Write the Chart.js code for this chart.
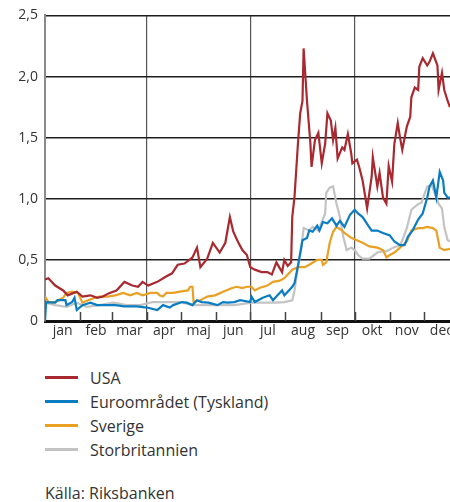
<!DOCTYPE html>
<html>
<head>
<meta charset="utf-8">
<script src="https://cdn.jsdelivr.net/npm/chart.js@4.4.1/dist/chart.umd.min.js"></script>
<style>
html,body{margin:0;padding:0;overflow:hidden;background:#fff;width:450px;height:502px;}
#wrap{position:relative;width:470px;height:502px;font-family:"Open Sans",Lato,sans-serif;color:#333;}
#chartBox{position:absolute;left:0;top:0;width:470px;height:345px;}
.leg{position:absolute;left:0;height:24px;width:400px;}
.leg .ln{position:absolute;left:45px;top:10px;width:33px;height:3px;}
.leg .tx{position:absolute;left:90px;top:0;line-height:24px;font-size:16px;white-space:nowrap;}
#src{position:absolute;left:45px;top:481px;line-height:24px;font-size:16px;white-space:nowrap;}
</style>
</head>
<body>
<div id="wrap">
  <div id="chartBox"><canvas id="c"></canvas></div>
  <div id="legend"></div>
  <div id="src">Källa: Riksbanken</div>
</div>
<script>
// ---- data (x = day of year 2007, y = percentage points) ----
const monthNames = ['jan','feb','mar','apr','maj','jun','jul','aug','sep','okt','nov','dec'];
const monthStarts = [0,31,59,90,120,151,181,212,243,273,304,334,365];
const quarterLines = [90,181,273];
const yTicks = [0,0.5,1,1.5,2,2.5];

const seriesNames = ['USA','Euroområdet (Tyskland)','Sverige','Storbritannien'];
const seriesColors = ['#a8292f','#0a7cc2','#e9a023','#c3c3c3'];

const usaDays = [0,3,9,16,20,28,33,40,46,51,57,63,70,77,82,86,91,99,106,112,117,123,130,134,137,143,148,154,159,163,166,170,174,178,181,185,191,196,200,204,209,211,214,217,218,220,223,225,227,228,231,234,235,238,241,244,247,249,252,254,256,258,262,264,267,270,271,275,277,280,284,288,289,293,295,298,301,303,306,308,311,313,315,319,322,323,326,329,330,333,337,339,342,346,347,350,352,355,357];
const usaVals = [0.34,0.35,0.29,0.25,0.21,0.24,0.20,0.21,0.19,0.20,0.23,0.25,0.32,0.29,0.28,0.32,0.29,0.32,0.36,0.39,0.46,0.47,0.52,0.60,0.44,0.51,0.64,0.56,0.64,0.85,0.73,0.65,0.58,0.54,0.44,0.42,0.40,0.40,0.38,0.48,0.40,0.50,0.45,0.48,0.85,1.02,1.45,1.70,1.80,2.23,1.80,1.45,1.26,1.48,1.54,1.29,1.45,1.70,1.64,1.48,1.58,1.33,1.42,1.40,1.53,1.37,1.29,1.32,1.26,1.15,0.92,1.18,1.34,1.10,1.21,1.01,0.96,1.27,1.14,1.45,1.62,1.50,1.40,1.59,1.67,1.83,1.91,1.89,2.08,2.15,2.09,2.12,2.19,2.09,1.89,2.03,1.89,1.80,1.75];

const euroDays = [0,1,9,11,18,19,24,26,28,33,40,46,55,62,70,81,90,99,104,110,113,121,125,130,134,138,144,152,157,161,167,172,181,182,185,192,198,201,205,209,211,214,218,220,223,227,231,233,236,240,242,245,249,253,257,260,264,269,273,276,280,285,288,293,298,304,308,313,317,320,324,329,333,337,339,342,345,348,351,352,355,357];
const euroVals = [0,0.155,0.15,0.17,0.17,0.13,0.155,0.19,0.09,0.13,0.15,0.13,0.13,0.13,0.12,0.12,0.11,0.09,0.13,0.11,0.13,0.155,0.15,0.13,0.17,0.155,0.15,0.13,0.155,0.15,0.155,0.17,0.155,0.20,0.155,0.19,0.21,0.17,0.21,0.25,0.21,0.24,0.28,0.31,0.45,0.66,0.68,0.74,0.73,0.78,0.74,0.81,0.80,0.84,0.78,0.82,0.77,0.87,0.91,0.88,0.85,0.78,0.74,0.74,0.72,0.70,0.65,0.62,0.62,0.69,0.74,0.83,0.88,1.01,1.10,1.15,1.01,1.22,1.15,1.05,1.01,1.01];

const sweDays = [0,3,9,16,19,24,29,33,38,44,48,55,62,69,75,81,86,93,99,101,104,107,113,119,126,128,130,131,137,143,150,157,165,169,174,178,182,185,189,196,201,207,211,213,218,223,229,233,240,244,245,248,251,254,257,262,264,267,270,275,280,286,293,298,301,304,308,313,319,323,329,333,337,342,345,348,352,357];
const sweVals = [0.20,0.155,0.155,0.19,0.23,0.24,0.23,0.15,0.17,0.19,0.20,0.20,0.21,0.23,0.21,0.23,0.21,0.23,0.23,0.21,0.20,0.23,0.23,0.24,0.25,0.28,0.28,0.155,0.17,0.20,0.21,0.24,0.27,0.28,0.27,0.28,0.28,0.25,0.27,0.29,0.32,0.33,0.35,0.37,0.42,0.44,0.44,0.46,0.50,0.50,0.46,0.48,0.64,0.73,0.77,0.74,0.72,0.70,0.68,0.66,0.64,0.61,0.60,0.58,0.52,0.54,0.56,0.60,0.65,0.74,0.76,0.76,0.77,0.76,0.74,0.60,0.58,0.59];

const ukDays = [0,9,19,28,37,48,60,72,84,95,107,119,130,143,154,167,182,194,203,211,218,220,223,226,228,233,236,241,244,247,248,251,254,257,260,263,266,270,273,276,280,286,293,297,301,307,313,315,319,323,328,332,335,337,341,345,347,350,352,355,357];
const ukVals = [0.15,0.13,0.115,0.15,0.115,0.13,0.15,0.13,0.13,0.155,0.155,0.155,0.13,0.13,0.13,0.13,0.15,0.15,0.15,0.155,0.17,0.25,0.44,0.60,0.76,0.74,0.77,0.74,0.81,0.88,1.05,1.09,1.10,0.96,0.85,0.69,0.58,0.60,0.58,0.54,0.51,0.51,0.56,0.57,0.57,0.60,0.62,0.66,0.76,0.91,0.95,0.97,1.05,1.10,1.11,1.01,0.96,0.92,0.77,0.66,0.65];

// ---- build ----
function pts(d, v){ return d.map((x,i)=>({x:x, y:v[i]})); }
const seriesData = [pts(usaDays,usaVals), pts(euroDays,euroVals), pts(sweDays,sweVals), pts(ukDays,ukVals)];

const monthMids = monthNames.map((n,i)=>(monthStarts[i]+monthStarts[i+1])/2);
const labelAt = {};
monthMids.forEach((m,i)=>{ labelAt[m] = monthNames[i]; });

const tickFont = {family:'"Open Sans", Lato, sans-serif', size:14};

const monthTickPlugin = {
  id:'monthTicks',
  afterDatasetsDraw(chart){
    const xs = chart.scales.x, ca = chart.chartArea, ctx = chart.ctx;
    ctx.save();
    ctx.strokeStyle = '#444';
    ctx.lineWidth = 1.5;
    monthStarts.forEach(d=>{
      if (d===0) return;
      const px = Math.round(xs.getPixelForValue(d))+0.5;
      ctx.beginPath();
      ctx.moveTo(px, ca.bottom);
      ctx.lineTo(px, ca.bottom-9);
      ctx.stroke();
    });
    ctx.restore();
  }
};

new Chart(document.getElementById('c'), {
  type:'line',
  data:{
    datasets: seriesNames.map((n,i)=>({
      label:n, data:seriesData[i], borderColor:seriesColors[i], backgroundColor:seriesColors[i],
      borderWidth:2.2, pointRadius:0, tension:0, fill:false
    }))
  },
  options:{
    responsive:true, maintainAspectRatio:false, animation:false,
    layout:{padding:{top:15,right:11,left:0,bottom:0}},
    plugins:{legend:{display:false}, tooltip:{enabled:false}},
    scales:{
      x:{
        type:'linear', min:0, max:365,
        afterBuildTicks(scale){
          const all = monthStarts.concat(monthMids).sort((a,b)=>a-b);
          scale.ticks = all.map(v=>({value:v}));
        },
        afterFit(scale){ scale.height = 24; },
        ticks:{autoSkip:false, maxRotation:0, padding:2, color:'#333', font:tickFont,
          callback:(v)=> labelAt[v] || ''},
        grid:{drawTicks:false, lineWidth:1.2,
          color:(c)=> (c.tick && quarterLines.includes(c.tick.value)) ? '#555' : 'rgba(0,0,0,0)'},
        border:{display:true, color:'#111', width:3}
      },
      y:{
        min:0, max:2.5,
        afterBuildTicks(scale){ scale.ticks = yTicks.map(v=>({value:v})); },
        afterFit(scale){ scale.width = 45; },
        ticks:{padding:7, color:'#333', font:tickFont,
          callback:(v)=> v===0 ? '0' : v.toFixed(1).replace('.',',')},
        grid:{drawTicks:false, color:'#1e1e1e', lineWidth:1.4},
        border:{display:true, color:'#8a8a8a', width:2}
      }
    }
  },
  plugins:[monthTickPlugin]
});

// HTML legend
const legTops = [366,390,414,438];
const legend = document.getElementById('legend');
seriesNames.forEach((n,i)=>{
  const row = document.createElement('div');
  row.className='leg'; row.style.top = legTops[i]+'px';
  const ln = document.createElement('span'); ln.className='ln'; ln.style.background = seriesColors[i];
  const tx = document.createElement('span'); tx.className='tx'; tx.textContent = n;
  row.appendChild(ln); row.appendChild(tx); legend.appendChild(row);
});
</script>
</body>
</html>
